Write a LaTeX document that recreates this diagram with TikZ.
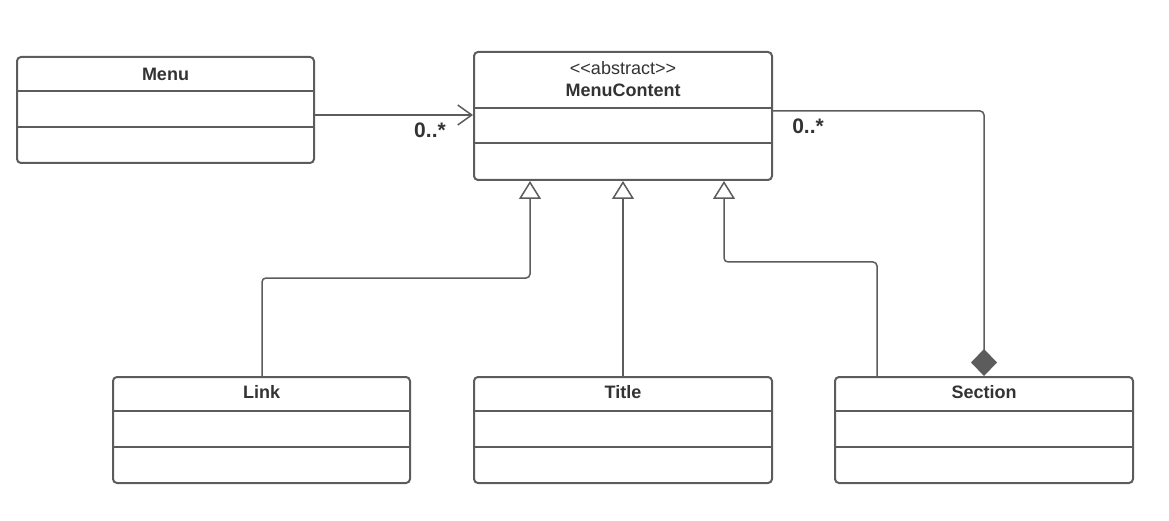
\documentclass[tikz,border=0pt]{standalone}
\usepackage{fontspec}
\setmainfont{Liberation Sans}
\usetikzlibrary{arrows.meta}
\definecolor{linec}{RGB}{92,92,92}
\definecolor{textc}{RGB}{51,51,51}
\tikzset{
  classbox/.style={draw=linec, line width=2pt, rounded corners=4pt, minimum height=106pt, inner sep=0pt, fill=white},
  divider/.style={draw=linec, line width=2pt},
  cname/.style={text=textc, font=\fontsize{18}{21}\selectfont\bfseries, inner sep=0pt},
  stereo/.style={text=textc, font=\fontsize{18}{21}\selectfont, inner sep=0pt},
  mult/.style={text=textc, font=\fontsize{21}{24}\selectfont\bfseries, inner sep=0pt},
  conn/.style={draw=linec, line width=1.5pt, rounded corners=4pt},
  assoc/.style={conn, -{Straight Barb[length=14pt,width=20pt,line width=1.5pt]}},
  gen/.style={conn, -{Triangle[open,length=18pt,width=22pt,line width=1.5pt,fill=white]}},
  compo/.style={conn, -{Diamond[length=27pt,width=26pt,fill=linec]}}
}
\begin{document}
\begin{tikzpicture}[x=1pt,y=-1pt]
\useasboundingbox (0,0) rectangle (1169,521);
% Menu
\node[classbox, minimum width=297pt] (menu) at (165.5,110) {};
\draw[divider] ([yshift=-35pt]menu.north west) -- ([yshift=-35pt]menu.north east);
\draw[divider] ([yshift=-71pt]menu.north west) -- ([yshift=-71pt]menu.north east);
\node[cname] (menut) at (165.5,74) {Menu};
% MenuContent
\node[classbox, minimum width=298pt, minimum height=128pt] (mc) at (623,116) {};
\draw[divider] ([yshift=-57pt]mc.north west) -- ([yshift=-57pt]mc.north east);
\draw[divider] ([yshift=-92pt]mc.north west) -- ([yshift=-92pt]mc.north east);
\node[stereo] (mcs) at (623,68) {{<}{<}abstract{>}{>}};
\node[cname] (mct) at (623,90) {MenuContent};
% Link
\node[classbox, minimum width=297pt] (link) at (261.5,430) {};
\draw[divider] ([yshift=-35pt]link.north west) -- ([yshift=-35pt]link.north east);
\draw[divider] ([yshift=-71pt]link.north west) -- ([yshift=-71pt]link.north east);
\node[cname] (linkt) at (261.5,392) {Link};
% Title
\node[classbox, minimum width=298pt] (title) at (623,430) {};
\draw[divider] ([yshift=-35pt]title.north west) -- ([yshift=-35pt]title.north east);
\draw[divider] ([yshift=-71pt]title.north west) -- ([yshift=-71pt]title.north east);
\node[cname] (titlet) at (623,392) {Title};
% Section
\node[classbox, minimum width=298pt] (sec) at (984,430) {};
\draw[divider] ([yshift=-35pt]sec.north west) -- ([yshift=-35pt]sec.north east);
\draw[divider] ([yshift=-71pt]sec.north west) -- ([yshift=-71pt]sec.north east);
\node[cname] (sect) at (984,392) {Section};
% coordinates
\coordinate (a1) at (315,115);
\coordinate (a2) at (473,115);
\coordinate (c1) at (773,111);
\coordinate (c2) at (984,376);
\coordinate (g1) at (530,278);
\coordinate (g2) at (724,262);
\coordinate (l0) at (262,376);
\coordinate (s0) at (877,376);
% association
\draw[assoc] (a1) -- (a2);
\node[mult] (m1) at (430,130) {0..*};
% composition
\draw[compo] (c1) -| (c2);
\node[mult] (m2) at (808,126) {0..*};
% generalizations
\draw[gen] (l0) |- (g1) -- (g1 |- mc.south);
\draw[gen] (title.north) -- (mc.south);
\draw[gen] (s0) |- (g2) -- (g2 |- mc.south);
\end{tikzpicture}
\end{document}
